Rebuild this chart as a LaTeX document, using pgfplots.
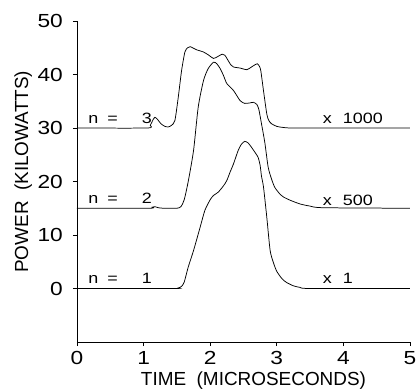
\documentclass[border=0pt]{standalone}
\usepackage{fontspec}
\setmainfont{Liberation Sans}
\newfontfamily\wfont{Liberation Sans}[FakeStretch=1.2]
\usepackage{pgfplots}
\pgfplotsset{compat=1.18}
\begin{document}
\begin{tikzpicture}
\begin{axis}[
  scale only axis, width=333bp, height=321bp,
  xmin=0, xmax=5, ymin=-10, ymax=50,
  axis lines=left, axis line style={-, line width=0.7pt},
  xtick={0,1,2,3,4,5}, ytick={0,10,20,30,40,50},
  tick align=outside, major tick length=4bp,
  tick style={line width=0.6pt, black},
  /pgf/number format/assume math mode=true,
  ticklabel style={font=\wfont\fontsize{19}{19}\selectfont},
  yticklabel style={anchor=east, inner sep=0pt, xshift=-10bp},
  xticklabel style={anchor=north, inner sep=0pt, yshift=-5bp},
  xlabel={TIME\ \ (MICROSECONDS)},
  ylabel={POWER\ \ (KILOWATTS)},
  label style={font=\fontsize{19}{19}\selectfont, inner sep=0pt},
  xlabel style={at={(axis description cs:0.53,-0.136)}, anchor=base},
  ylabel style={at={(axis description cs:-0.147,0.53)}, anchor=base},
  curve/.style={black, line width=0.75pt, smooth, tension=0.4, mark=none},
]
% n = 1
\addplot[curve] coordinates {(0,0) (1.45,0) (1.52,0.1) (1.57,0.4) (1.61,1.2) (1.67,4.0) (1.75,7.1) (1.85,11.5) (1.92,14.6) (2.0,16.6) (2.05,17.4) (2.12,18.0) (2.2,19.2) (2.25,20.2) (2.30,21.8) (2.35,23.3) (2.42,25.8) (2.47,27.0) (2.52,27.5) (2.57,27.2) (2.62,26.4) (2.68,25.3) (2.72,24.5) (2.75,23.0) (2.77,21.0) (2.80,19.0) (2.85,13.3) (2.90,7.1) (2.95,4.8) (3.0,3.2) (3.08,1.8) (3.15,1.1) (3.25,0.5) (3.35,0.2) (3.5,0) (5,0)};
% n = 2
\addplot[curve] coordinates {(0,15) (1.08,15) (1.13,15.2) (1.17,15.3) (1.22,15.1) (1.3,15.0) (1.5,15.0) (1.56,15.3) (1.61,16.6) (1.67,20.0) (1.75,25.8) (1.82,33.9) (1.90,38.9) (1.97,41.1) (2.05,42.3) (2.10,42.0) (2.15,41.1) (2.20,39.8) (2.25,38.3) (2.35,37.0) (2.45,35.1) (2.52,34.6) (2.6,34.7) (2.65,34.8) (2.70,34.4) (2.73,33.5) (2.77,30.8) (2.82,27.3) (2.87,22.7) (2.92,20.5) (2.97,18.9) (3.05,17.6) (3.10,17.1) (3.2,16.5) (3.35,15.8) (3.5,15.4) (3.7,15.1) (5,15)};
% n = 3
\addplot[curve] coordinates {(0,30) (1.05,30) (1.1,30.5) (1.14,31.5) (1.17,32.0) (1.21,31.6) (1.26,30.8) (1.32,30.3) (1.37,30.2) (1.42,30.5) (1.47,31.4) (1.52,35.7) (1.57,40.7) (1.62,44.2) (1.66,45.0) (1.70,45.2) (1.75,44.9) (1.80,44.6) (1.90,44.2) (1.98,43.6) (2.05,43.0) (2.12,43.4) (2.18,43.8) (2.22,43.6) (2.27,42.6) (2.31,41.8) (2.35,41.4) (2.45,41.2) (2.55,40.9) (2.62,41.4) (2.67,41.8) (2.71,42.0) (2.74,41.5) (2.76,40.7) (2.80,37.0) (2.85,32.6) (2.88,31.4) (2.92,30.8) (3.0,30.3) (3.1,30.1) (3.3,30.0) (5,30)};
\begin{scope}[every node/.style={font=\wfont\fontsize{15}{15}\selectfont, inner sep=0pt}]
\node[anchor=base east] at (axis cs:1.126,30.8) {n\hspace{9bp}=\hspace{24bp}3};
\node[anchor=base east] at (axis cs:1.126,15.9) {n\hspace{9bp}=\hspace{24bp}2};
\node[anchor=base east] at (axis cs:1.126,0.9) {n\hspace{9bp}=\hspace{24bp}1};
\node[anchor=base west] at (axis cs:3.69,30.8) {x\hspace{11bp}1000};
\node[anchor=base west] at (axis cs:3.69,15.5) {x\hspace{11bp}500};
\node[anchor=base west] at (axis cs:3.69,0.9) {x\hspace{11bp}1};
\end{scope}
\end{axis}
\pgfresetboundingbox
\path[use as bounding box] (-77bp,-49bp) rectangle (339bp,342bp);
\end{tikzpicture}
\end{document}
